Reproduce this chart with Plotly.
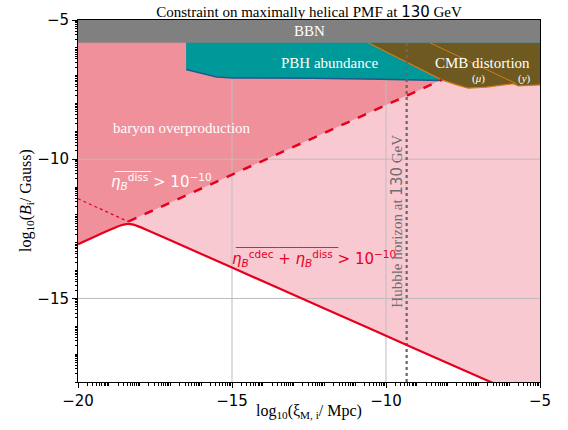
import numpy as np
import plotly.graph_objects as go

# ---------------- data ----------------
x_range = [-20, -5]
y_range = [-18, -5]

# solid red boundary: eta_B^cdec + eta_B^diss = 1e-10
solid_x = [-20, -19.5, -19.0, -18.8, -18.6, -18.4, -18.2, -18.0, -17.8, -17.0, -15.0, -12.0, -9.0, -6.5]
solid_y = [-13.05, -12.80, -12.55, -12.46, -12.37, -12.32, -12.35, -12.43, -12.52, -12.91, -13.89, -15.36, -16.83, -18.05]

# dashed red boundary: eta_B^diss = 1e-10
dashed_x = [-18.37, -8.19]
dashed_y = [-12.24, -7.15]

# dotted red continuation
dotted_x = [-20.0, -18.37]
dotted_y = [-11.42, -12.24]

# baryon overproduction (above dashed line)
baryon_x = [-20.0, -8.19, -8.19, -20.0]
baryon_y = [-13.05, -7.15, -5.0, -5.0]

# BBN limit
bbn_limit = -5.82

# PBH abundance lower edge
pbh_x = [-16.49, -15.62, -15.50, -14.97, -12.37, -10.19, -8.57, -8.19]
pbh_y = [-6.78, -7.02, -7.05, -7.08, -7.09, -7.13, -7.17, -7.17]

# CMB distortion boundary
cmb_x = [-10.58, -8.19, -7.70, -7.33, -6.73, -5.87, -5.70, -5.0]
cmb_y = [-5.82, -7.15, -7.33, -7.45, -7.41, -7.29, -7.37, -7.33]

# mu / y separation
muy_x = [-8.57, -5.76]
muy_y = [-5.82, -7.29]

# Hubble horizon at 130 GeV
hubble_x = -9.33

major_ticks = [-20, -15, -10, -5]
major_labels = ["\u221220", "\u221215", "\u221210", "\u22125"]
ymajor_ticks = [-18, -15, -10, -5]
ymajor_labels = ["", "\u221215", "\u221210", "\u22125"]
grid_x = [-15, -10]
grid_y = [-15, -10]

# ---------------- styles ----------------
C_LIGHT = "#F9C9D1"
C_DARK = "#F0909A"
C_TEAL = "#009999"
C_BROWN = "#6E5A20"
C_ORANGE = "#D2781E"
C_GRAY = "#808080"
C_RED = "#E6001E"
C_GRID = "#BDBDBD"
SERIF = "Liberation Serif"
SANS = "DejaVu Sans"

fig = go.Figure()

# light pink region above the solid curve
lp_x = solid_x + [-5.0, -5.0, -20.0]
lp_y = solid_y + [solid_y[-1], -5.0, -5.0]
fig.add_trace(go.Scatter(x=lp_x, y=lp_y, fill="toself", fillcolor=C_LIGHT,
                         line=dict(width=0), mode="lines", hoverinfo="skip"))
# dark pink baryon overproduction
fig.add_trace(go.Scatter(x=baryon_x, y=baryon_y, fill="toself", fillcolor=C_DARK,
                         line=dict(width=0), mode="lines", hoverinfo="skip"))

# grid lines
for gx in grid_x:
    fig.add_trace(go.Scatter(x=[gx, gx], y=y_range, mode="lines",
                             line=dict(color=C_GRID, width=1), hoverinfo="skip"))
for gy in grid_y:
    fig.add_trace(go.Scatter(x=x_range, y=[gy, gy], mode="lines",
                             line=dict(color=C_GRID, width=1), hoverinfo="skip"))

# PBH abundance
t_x = [pbh_x[0]] + pbh_x + [-5.0, -5.0]
t_y = [-5.0] + pbh_y + [pbh_y[-1], -5.0]
fig.add_trace(go.Scatter(x=t_x, y=t_y, fill="toself", fillcolor=C_TEAL,
                         line=dict(width=0), mode="lines", hoverinfo="skip"))
fig.add_trace(go.Scatter(x=pbh_x, y=pbh_y, mode="lines",
                         line=dict(color="#1F5A8A", width=1.5), hoverinfo="skip"))

# CMB distortion
b_x = cmb_x + [-5.0, cmb_x[0]]
b_y = cmb_y + [cmb_y[0], cmb_y[0]]
fig.add_trace(go.Scatter(x=b_x, y=b_y, fill="toself", fillcolor=C_BROWN,
                         line=dict(width=0), mode="lines", hoverinfo="skip"))
fig.add_trace(go.Scatter(x=cmb_x, y=cmb_y, mode="lines",
                         line=dict(color=C_ORANGE, width=1.2), hoverinfo="skip"))
fig.add_trace(go.Scatter(x=muy_x, y=muy_y, mode="lines",
                         line=dict(color=C_ORANGE, width=1), hoverinfo="skip"))

# Hubble horizon
fig.add_trace(go.Scatter(x=[hubble_x, hubble_x], y=[y_range[0], bbn_limit], mode="lines",
                         line=dict(color="#666666", width=2.2, dash="dot"), hoverinfo="skip"))

# BBN
fig.add_trace(go.Scatter(x=[-20, -5, -5, -20], y=[bbn_limit, bbn_limit, -5, -5],
                         fill="toself", fillcolor=C_GRAY, line=dict(width=0),
                         mode="lines", hoverinfo="skip"))

# red lines
fig.add_trace(go.Scatter(x=dotted_x, y=dotted_y, mode="lines",
                         line=dict(color=C_RED, width=1.3, dash="dot"), hoverinfo="skip"))
fig.add_trace(go.Scatter(x=dashed_x, y=dashed_y, mode="lines",
                         line=dict(color=C_RED, width=2.5, dash="dash"), hoverinfo="skip"))
fig.add_trace(go.Scatter(x=solid_x, y=solid_y, mode="lines",
                         line=dict(color=C_RED, width=2.2, shape="spline", smoothing=0.6),
                         hoverinfo="skip"))

# ---------------- text ----------------
def label(x, y, text, size, color="white", family=SERIF, angle=0, xanchor="center",
          xshift=0, yshift=0, xref="x", yref="y"):
    fig.add_annotation(x=x, y=y, xref=xref, yref=yref, text=text, showarrow=False,
                       textangle=angle,
                       font=dict(family=family, size=size, color=color),
                       xanchor=xanchor, yanchor="middle", xshift=xshift, yshift=yshift)

label(-12.47, -5.41, "BBN", 15)
label(-11.82, -6.54, "PBH abundance", 15)
label(-6.88, -6.54, "CMB distortion", 15)
label(-7.0, -7.09, "(<i>\u03bc</i>)", 11)
label(-5.49, -7.09, "(<i>y</i>)", 11)
label(-16.62, -8.87, "baryon overproduction", 15)

# eta labels (left-anchored), with overlines drawn as a text rule
eta_w_x, eta_w_y = -18.98, -10.80
label(eta_w_x, eta_w_y,
      "<i>\u03b7</i><sub><i>B</i></sub><sup>diss</sup> &gt; 10<sup>\u221210</sup>",
      15, family=SANS, xanchor="left")
label(eta_w_x, eta_w_y, "\u2500" * 6, 10, family=SANS, xanchor="left", xshift=3, yshift=10)

eta_r_x, eta_r_y = -15.05, -13.55
label(eta_r_x, eta_r_y,
      "<i>\u03b7</i><sub><i>B</i></sub><sup>cdec</sup> + <i>\u03b7</i><sub><i>B</i></sub><sup>diss</sup> &gt; 10<sup>\u221210</sup>",
      15, color=C_RED, family=SANS, xanchor="left")
label(eta_r_x, eta_r_y, "\u2500" * 17, 10, color=C_RED, family=SANS, xanchor="left",
      xshift=3, yshift=11)

label(-9.64, -12.24,
      "Hubble horizon at <span style='font-family:DejaVu Sans'>130</span> GeV",
      15, color="#6E6E6E", angle=-90)

# axis titles
label(0.5, 0, "log<sub>10</sub>(\u03be<sub>M, i</sub>/ Mpc)", 16, color="black",
      xref="paper", yref="paper", yshift=-29)
label(0, 0.5, "log<sub>10</sub>(<i>B</i><sub>i</sub>/ Gauss)", 16, color="black",
      xref="paper", yref="paper", xshift=-52, angle=-90)

# ---------------- axes ----------------
def minor_vals(lo, hi):
    vals = []
    for n in range(lo, hi):
        for k in range(1, 10):
            v = n + np.log10(k)
            if v not in major_ticks:
                vals.append(float(v))
    return vals

fig.update_xaxes(range=x_range, showgrid=False, zeroline=False, automargin=False,
                 showline=True, linecolor="black", linewidth=1, mirror=True,
                 ticks="outside", ticklen=5, tickwidth=1, tickcolor="black",
                 tickmode="array", tickvals=major_ticks, ticktext=major_labels,
                 tickfont=dict(family=SANS, size=15, color="black"),
                 minor=dict(tickmode="array", tickvals=minor_vals(-20, -5),
                            ticks="outside", ticklen=2.5, tickcolor="black", showgrid=False),
                 layer="above traces")
fig.update_yaxes(range=y_range, showgrid=False, zeroline=False, automargin=False,
                 showline=True, linecolor="black", linewidth=1, mirror=True,
                 ticks="outside", ticklen=5, tickwidth=1, tickcolor="black",
                 tickmode="array", tickvals=ymajor_ticks, ticktext=ymajor_labels,
                 tickfont=dict(family=SANS, size=15, color="black"),
                 minor=dict(tickmode="array", tickvals=minor_vals(-18, -5),
                            ticks="outside", ticklen=2.5, tickcolor="black", showgrid=False),
                 layer="above traces")

fig.update_layout(
    width=568, height=430,
    margin=dict(l=78, r=28, t=20, b=48),
    paper_bgcolor="white", plot_bgcolor="white",
    showlegend=False,
    title=dict(text="Constraint on maximally helical PMF at <span style='font-family:DejaVu Sans'>130</span> GeV",
               font=dict(family=SERIF, size=15, color="black"),
               x=0.5, xanchor="center", y=0.972, yanchor="middle", xref="paper"),
)

fig.write_html("out.html", config={"displayModeBar": False},
               post_script="document.body.style.margin='0';document.body.style.overflow='hidden';")
